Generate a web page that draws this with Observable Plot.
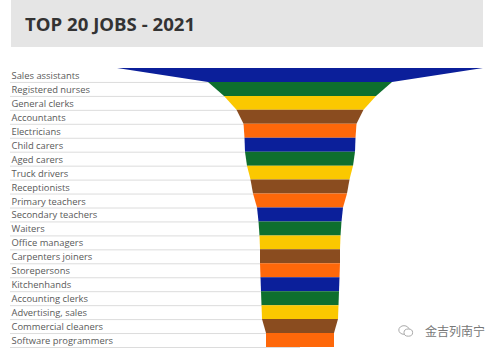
<!DOCTYPE html>
<html>
<head>
<meta charset="utf-8">
<script src="https://cdn.jsdelivr.net/npm/d3@7"></script>
<script src="https://cdn.jsdelivr.net/npm/@observablehq/plot@0.6"></script>
<style>
  html, body { margin: 0; padding: 0; background: #fff; }
  #wrap { position: relative; width: 500px; height: 355px; overflow: hidden; }
  #title { position: absolute; left: 11px; top: 0; width: 472px; height: 47px; background: #e5e5e5;
           font-family: "Open Sans", sans-serif; font-weight: 700; font-size: 18.6px; color: #333;
           box-sizing: border-box; padding-left: 14px; line-height: 48px; }
  #chart { position: absolute; left: 0; top: 0; }
  #mark { position: absolute; left: 398px; top: 322px; font-family: "Noto Sans CJK SC", sans-serif;
          font-size: 12px; color: #777; display: flex; align-items: center; gap: 11px; }
</style>
</head>
<body>
<div id="wrap">
  <div id="chart"></div>
  <div id="title">TOP 20 JOBS - 2021</div>
  <div id="mark">
    <svg width="16" height="14" viewBox="0 0 16 14">
      <ellipse cx="6" cy="6" rx="5.2" ry="4.3" fill="none" stroke="#aaa" stroke-width="1"/>
      <ellipse cx="10.3" cy="8.6" rx="4.3" ry="3.6" fill="#fff" stroke="#aaa" stroke-width="1"/>
    </svg>
    <span>金吉列南宁</span>
  </div>
</div>
<script>
const jobs = [
  "Sales assistants", "Registered nurses", "General clerks", "Accountants", "Electricians",
  "Child carers", "Aged carers", "Truck drivers", "Receptionists", "Primary teachers",
  "Secondary teachers", "Waiters", "Office managers", "Carpenters joiners", "Storepersons",
  "Kitchenhands", "Accounting clerks", "Advertising, sales", "Commercial cleaners", "Software programmers"
];
const values = [366, 184, 152, 127, 113, 111, 110, 106, 99, 94, 86, 83, 81, 80, 80, 79, 78, 77, 76, 68];
const bands = ["band1", "band2", "band3", "band4", "band5"];
const palette = ["#0b1f9a", "#0e6f2e", "#fbc800", "#8a4c1f", "#fe680a"];

const xDomain = [-290, 190];

// each job drawn as a trapezoid: its value at the top edge, next job's value at the bottom edge
const pts = jobs.flatMap((job, i) => {
  const next = i + 1 < values.length ? values[i + 1] : values[i];
  const band = bands[i % bands.length];
  return [
    {job, band, pos: i, half: values[i] / 2},
    {job, band, pos: i + 1, half: next / 2}
  ];
});
const labels = jobs.map((job, i) => ({job, pos: i + 0.5}));
const boundaries = jobs.map((job, i) => i + 1);

const chart = Plot.plot({
  width: 500,
  height: 355,
  marginLeft: 10,
  marginRight: 10,
  x: {domain: xDomain, axis: null},
  y: {domain: [0, jobs.length], range: [68, 347], axis: null},
  color: {type: "ordinal", domain: bands, range: palette},
  style: {background: "transparent"},
  marks: [
    Plot.ruleY(boundaries, {y: d => d, x1: xDomain[0], x2: 0, stroke: "#dcdcdc", strokeWidth: 1}),
    Plot.areaX(pts, {y: "pos", x1: d => -d.half, x2: d => d.half, z: "job", fill: "band", curve: "linear"}),
    Plot.text(labels, {y: "pos", text: "job", frameAnchor: "left", dx: 1, dy: 0.5, textAnchor: "start",
      fontFamily: "Open Sans", fontSize: 9.4, fill: "#5a5a5a"})
  ]
});
document.getElementById("chart").appendChild(chart);
</script>
</body>
</html>
